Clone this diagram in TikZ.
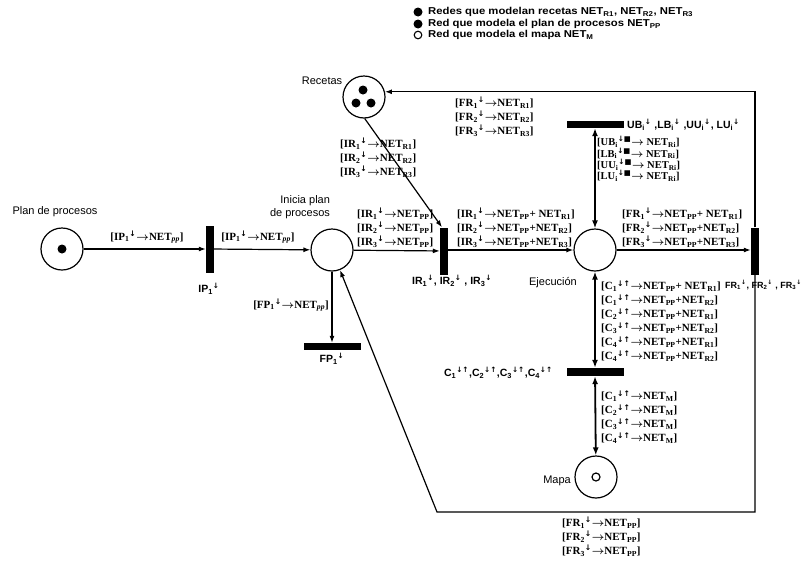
\documentclass[tikz,border=0pt]{standalone}
\usepackage{graphicx}
\usepackage{fontspec}
\setmainfont{Liberation Serif}
\newfontfamily\lsans{Liberation Sans}
\newfontfamily\dvs{DejaVu Sans}
\usetikzlibrary{arrows.meta}
\newcommand\ix[1]{\textsubscript{#1}\textsuperscript{\dvs\bfseries ↓}}
\newcommand\ixx[1]{\textsubscript{#1}\textsuperscript{\dvs\bfseries ↓↑}}
\newcommand\ixs[1]{\textsubscript{#1}\textsuperscript{\dvs\bfseries ↓■}}
\newcommand\myar{$\rightarrow$}
\newcommand\lo[1]{\textsubscript{#1}}
\newcommand\wide[1]{\scalebox{1.13}[1]{#1}}
\tikzset{
  place/.style={circle,draw,line width=1.2pt,minimum size=42pt,inner sep=0pt},
  trans/.style={fill=black,inner sep=0pt,draw=none},
  vbar/.style={trans,minimum width=8pt,minimum height=47pt},
  hbar/.style={trans,minimum width=57pt,minimum height=7pt},
  arr/.style={line width=1.2pt,-{Latex[length=7pt,width=5pt]}},
  darr/.style={line width=1.8pt,{Latex[length=8pt,width=6pt]}-{Latex[length=8pt,width=6pt]}},
  lab/.style={font=\fontsize{11}{14}\selectfont\bfseries\boldmath,align=left,inner sep=0pt},
  labs/.style={font=\fontsize{10.5}{11.3}\selectfont\bfseries\boldmath,align=left,inner sep=0pt},
  pname/.style={font=\lsans\fontsize{11}{13.5}\selectfont,inner sep=0pt,align=right},
  tname/.style={font=\lsans\bfseries\boldmath\fontsize{10.5}{13}\selectfont,inner sep=0pt},
  legend/.style={font=\lsans\bfseries\fontsize{10}{12}\selectfont,inner sep=0pt,anchor=west},
}
\begin{document}
\begin{tikzpicture}[x=1pt,y=-1pt]
\useasboundingbox (0,0) rectangle (808,560);
% legend
\fill (418,12) circle[radius=4.5pt];
\fill (418,24) circle[radius=4.5pt];
\draw[line width=1.1pt] (418,35) circle[radius=3.8pt];
\node[legend] (lg1) at (428,12) {\wide{Redes que modelan recetas NET\lo{R1}, NET\lo{R2}, NET\lo{R3}}};
\node[legend] (lg2) at (428,24) {\wide{Red que modela el plan de procesos NET\lo{PP}}};
\node[legend] (lg3) at (428,35) {\wide{Red que modela el mapa NET\lo{M}}};
% places
\node[place] (pp) at (62,249) {};
\fill (pp) circle[radius=4.5pt];
\node[place] (ini) at (332,250) {};
\node[place] (ej) at (595,250) {};
\node[place] (rec) at (364,97) {};
\fill (363,90) circle[radius=4.5pt];
\fill (356,103) circle[radius=4.5pt];
\fill (371,103) circle[radius=4.5pt];
\node[place] (mapa) at (596,477) {};
\draw[line width=1.2pt] (mapa) circle[radius=4pt];
% transitions
\node[vbar] (ip) at (210,249) {};
\node[vbar] (ir) at (444,251) {};
\node[vbar] (fr) at (755,251) {};
\node[hbar] (fp) at (332,346.5) {};
\node[hbar] (ub) at (595,124.5) {};
\node[hbar,minimum height=8pt] (c) at (595,372) {};
% names
\node[pname] (npp) at (55,212) {Plan de procesos};
\node[pname] (nini) at (300,207) {Inicia plan\\de procesos};
\node[pname] (nrec) at (322,81) {Recetas};
\node[pname] (nej) at (553,283) {Ejecución};
\node[pname,anchor=east] (nmapa) at (571,481) {Mapa};
\node[tname] (tip) at (209,289) {IP\ix1};
\node[tname] (tfp) at (332,359) {FP\ix1};
\node[tname,anchor=west] (tir) at (412,281) {IR\ix1, IR\ix2 , IR\ix3};
\node[tname,anchor=west,font=\lsans\bfseries\fontsize{9}{11}\selectfont] (tfr) at (725,285) {FR\ix1, FR\ix2 , FR\ix3};
\node[tname,anchor=west] (tub) at (627,125) {UB\ix{i} ,LB\ix{i} ,UU\ix{i}, LU\ix{i}};
\node[tname,anchor=east] (tc) at (553,373) {C\ixx1,C\ixx2,C\ixx3,C\ixx4};
% connectors
\draw[arr] (pp) -- (ip);
\draw[arr] (ip) -- (ini);
\draw[arr] (ini) -- (ir);
\draw[arr] (ir.east |- ej.west) -- (ej);
\draw[arr] (ej) -- (ej -| fr.west);
\draw[arr] (ini) -- (fp);
\draw[arr] (rec.-88) -- ([xshift=-2pt]ir.north);
\draw[arr] (fr.north) |- (rec.14);
\coordinate (corner) at (437,512);
\draw[arr] (fr.south) |- (corner) -- (ini);
\draw[darr] (ub) -- (ej);
\draw[darr] (ej) -- (c);
\draw[darr] (c) -- (mapa);
% arc labels
\node[lab] (l1) at (147,237) {[IP\ix1\myar NET\lo{\textit{pp}}]};
\node[lab] (l2) at (258,237) {[IP\ix1\myar NET\lo{\textit{pp}}]};
\node[lab,anchor=east] (l3) at (329,305) {[FP\ix1\myar NET\lo{\textit{pp}}]};
\node[lab,anchor=west] (l4) at (357,228) {[IR\ix1\myar NET\lo{PP}]\\{}[IR\ix2\myar NET\lo{PP}]\\{}[IR\ix3\myar NET\lo{PP}]};
\node[lab,anchor=west] (l5) at (340,158) {[IR\ix1\myar NET\lo{R1}]\\{}[IR\ix2\myar NET\lo{R2}]\\{}[IR\ix3\myar NET\lo{R3}]};
\node[lab,anchor=west] (l6) at (455,117) {[FR\ix1\myar NET\lo{R1}]\\{}[FR\ix2\myar NET\lo{R2}]\\{}[FR\ix3\myar NET\lo{R3}]};
\node[lab,anchor=west] (l7) at (457,228) {[IR\ix1\myar NET\lo{PP}+ NET\lo{R1}]\\{}[IR\ix2\myar NET\lo{PP}+NET\lo{R2}]\\{}[IR\ix3\myar NET\lo{PP}+NET\lo{R3}]};
\node[lab,anchor=west] (l8) at (622,228) {[FR\ix1\myar NET\lo{PP}+ NET\lo{R1}]\\{}[FR\ix2\myar NET\lo{PP}+NET\lo{R2}]\\{}[FR\ix3\myar NET\lo{PP}+NET\lo{R3}]};
\node[labs,anchor=west] (l9) at (597,159) {[UB\ixs{i}\myar{} NET\lo{Ri}]\\{}[LB\ixs{i}\myar{} NET\lo{Ri}]\\{}[UU\ixs{i}\myar{} NET\lo{Ri}]\\{}[LU\ixs{i}\myar{} NET\lo{Ri}]};
\node[lab,anchor=west] (l10) at (601,321) {[C\ixx1\myar NET\lo{PP}+ NET\lo{R1}]\\{}[C\ixx1\myar NET\lo{PP}+NET\lo{R2}]\\{}[C\ixx2\myar NET\lo{PP}+NET\lo{R1}]\\{}[C\ixx3\myar NET\lo{PP}+NET\lo{R2}]\\{}[C\ixx4\myar NET\lo{PP}+NET\lo{R1}]\\{}[C\ixx4\myar NET\lo{PP}+NET\lo{R2}]};
\node[lab,anchor=west] (l11) at (601,417) {[C\ixx1\myar NET\lo{M}]\\{}[C\ixx2\myar NET\lo{M}]\\{}[C\ixx3\myar NET\lo{M}]\\{}[C\ixx4\myar NET\lo{M}]};
\node[lab,anchor=west] (l12) at (562,537) {[FR\ix1\myar NET\lo{PP}]\\{}[FR\ix2\myar NET\lo{PP}]\\{}[FR\ix3\myar NET\lo{PP}]};
\end{tikzpicture}
\end{document}
